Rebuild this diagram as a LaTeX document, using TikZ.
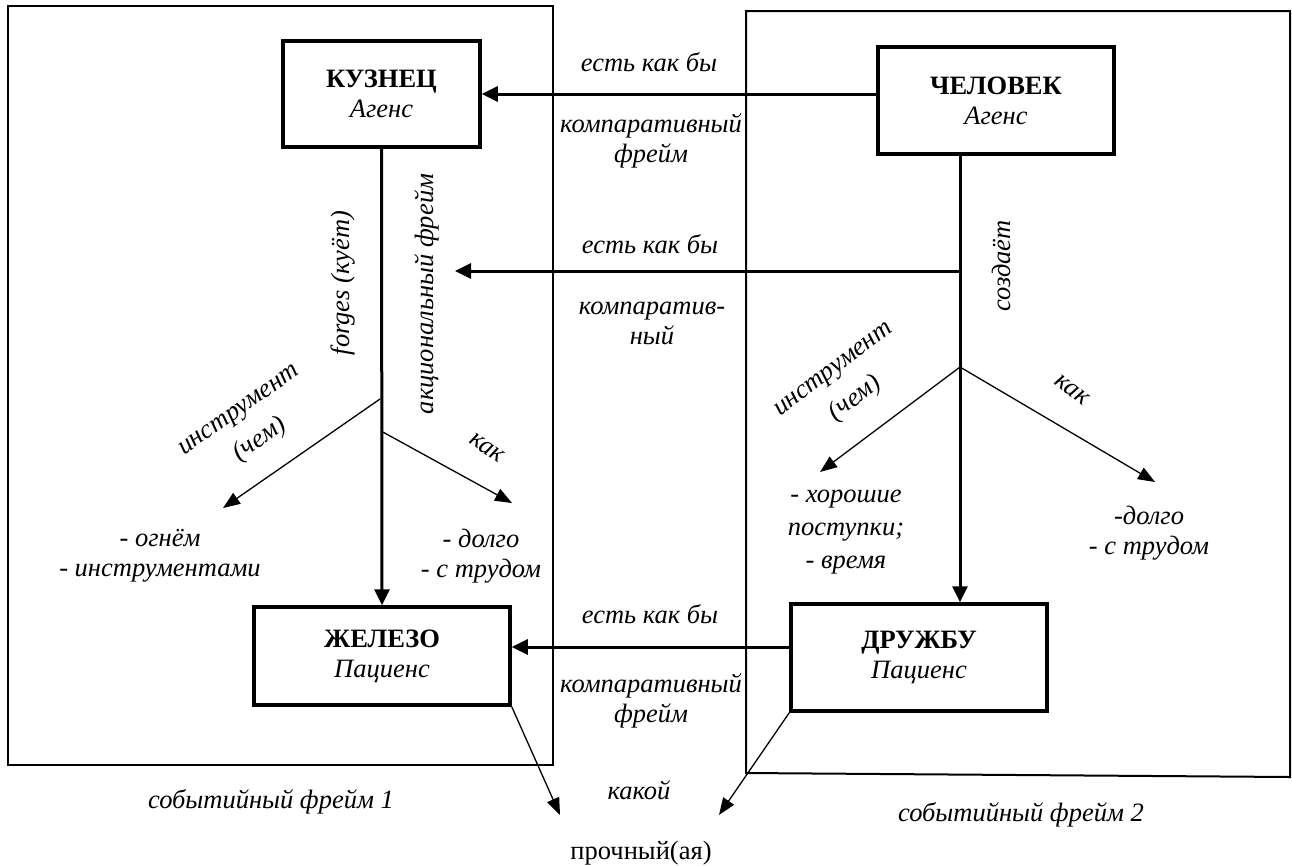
\documentclass[tikz,border=0pt]{standalone}
\usepackage{fontspec}
\setmainfont{Liberation Serif}
\usetikzlibrary{arrows.meta}
\tikzset{
  box/.style={draw, line width=3.5pt, align=center, inner sep=0pt},
  lbl/.style={font=\itshape\fontsize{26.5}{30}\selectfont, align=center},
  main/.style={line width=3pt, -{Triangle[length=16pt,width=15pt]}},
  thin/.style={line width=1.3pt, -{Triangle[length=17pt,width=13pt]}},
  frm/.style={line width=2pt}
}
\begin{document}
\begin{tikzpicture}[x=1pt,y=-1pt,font=\fontsize{26.5}{30}\selectfont]
\useasboundingbox (0,0) rectangle (1292,865);

\draw[frm] (8,6) rectangle (553,765);
\draw[frm] (746,11) -- (1290,11) -- (1290,777) -- (746,773) -- cycle;

\node[box, minimum width=197pt, minimum height=106pt] (kuznec) at (381.5,94) {\textbf{КУЗНЕЦ}\\\textit{Агенс}};
\node[box, minimum width=236pt, minimum height=107pt] (chelovek) at (996,100.5) {\textbf{ЧЕЛОВЕК}\\\textit{Агенс}};
\node[box, minimum width=256pt, minimum height=98pt] (zhelezo) at (382,656) {\textbf{ЖЕЛЕЗО}\\\textit{Пациенс}};
\node[box, minimum width=256pt, minimum height=107pt] (druzhbu) at (919,657.5) {\textbf{ДРУЖБУ}\\\textit{Пациенс}};

\coordinate (cTop) at (960,154);
\coordinate (cMid) at (960,271);
\coordinate (cFork) at (960,367);
\coordinate (kFork) at (380,399);
\coordinate (kHow) at (381,431);
\coordinate (tipAkc) at (455,271);
\coordinate (tipInstrL) at (223,508);
\coordinate (tipHowL) at (512,503);
\coordinate (tipInstrR) at (820,472);
\coordinate (tipHowR) at (1155,482);
\coordinate (tipZh) at (560,815);
\coordinate (tipDr) at (719,815);

\draw[main] (chelovek.west |- kuznec.east) -- (kuznec.east);
\draw[main] (kuznec.south) -- (zhelezo.north);
\draw[main] (cTop) -- (cTop |- druzhbu.north);
\draw[main] (cMid) -- (tipAkc);
\draw[main] (druzhbu.west |- 0,647) -- (zhelezo.east |- 0,647);

\draw[thin] (kFork) -- (tipInstrL);
\draw[thin] (kHow) -- (tipHowL);
\draw[thin] (cFork) -- (tipInstrR);
\draw[thin] (cFork) -- (tipHowR);
\draw[thin] (zhelezo.south east) -- (tipZh);
\draw[thin] (druzhbu.south west) -- (tipDr);

\node[lbl] (est1) at (649,62) {есть как бы};
\node[lbl] (komp1) at (651,141) {компаративный\\фрейм};
\node[lbl] (est2) at (650,244) {есть как бы};
\node[lbl] (komp2) at (652,323) {компаратив-\\ный};
\node[lbl] (est3) at (650,614) {есть как бы};
\node[lbl] (komp3) at (651,701) {компаративный\\фрейм};

\node[lbl, rotate=90] (forges) at (343,283) {forges (куёт)};
\node[lbl, rotate=90] (akc) at (427,294) {акциональный фрейм};
\node[lbl, rotate=90] (sozd) at (1001,266) {создаёт};

\node[lbl, rotate=35, font=\itshape\fontsize{26.5}{37}\selectfont] (instrL) at (251,427) {инструмент\\(чем)};
\node[lbl, rotate=-33] (howL) at (487,448) {как};
\node[lbl, rotate=37, font=\itshape\fontsize{26.5}{37}\selectfont] (instrR) at (846,386) {инструмент\\(чем)};
\node[lbl, rotate=-38] (howR) at (1072,390) {как};

\node[lbl] (ogon) at (160,556) {- огнём\\- инструментами};
\node[lbl] (dolgoL) at (481,556) {- долго\\- с трудом};
\node[lbl, font=\itshape\fontsize{26.5}{33}\selectfont] (horosh) at (846,532) {- хорошие\\поступки;\\- время};
\node[lbl] (dolgoR) at (1149,533) {-долго\\- с трудом};

\node[lbl] (sob1) at (271,802) {событийный фрейм 1};
\node[lbl] (sob2) at (1021,815) {событийный фрейм 2};
\node[lbl] (kakoj) at (639,790) {какой};
\node (prochn) at (641,853) {прочный(ая)};
\end{tikzpicture}
\end{document}
